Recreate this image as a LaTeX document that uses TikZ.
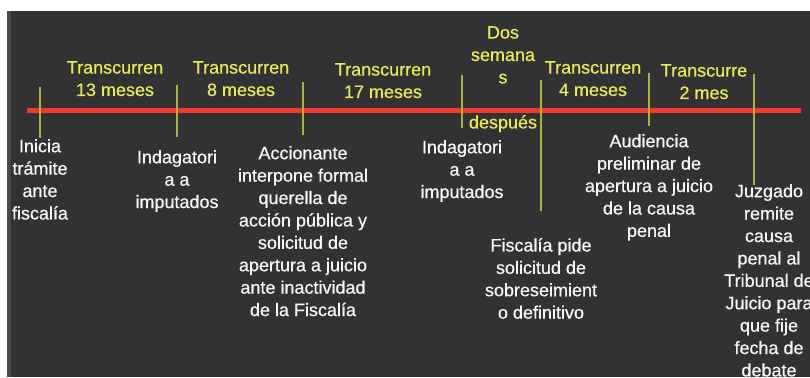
\documentclass[tikz,border=0pt]{standalone}
\usepackage{fontspec}
\setmainfont[BoldFont={Liberation Sans},BoldFeatures={FakeBold=0.6}]{Liberation Sans}
\definecolor{bgdark}{HTML}{323234}
\definecolor{edgegray}{HTML}{4A4A4C}
\definecolor{lblyellow}{HTML}{EAEA58}
\definecolor{tickcol}{HTML}{A9B43C}
\definecolor{redline}{HTML}{F03A2E}
\begin{document}
\begin{tikzpicture}[x=1pt,y=-1pt,
  lbl/.style={inner sep=0pt,anchor=north,align=center,font=\fontsize{18}{22.4}\selectfont\bfseries},
  white lbl/.style={lbl,text=white!93!gray},
  yellow lbl/.style={lbl,text=lblyellow},
  tick/.style={draw=tickcol,line width=1.8pt},
  axis/.style={draw=redline,line width=5pt}]
\useasboundingbox (0,0) rectangle (810,377);
\fill[white] (0,0) rectangle (810,377);
\fill[bgdark] (7,11) rectangle (810,377);
\fill[edgegray] (7,11) rectangle (11,377);
\begin{scope}
\clip (7,11) rectangle (810,377);
% axis
\coordinate (axL) at (27,111);
\coordinate (axR) at (801,111);
\draw[axis] (axL) -- (axR);
% ticks
\coordinate (t1a) at (40,87);  \coordinate (t1b) at (40,138);
\coordinate (t2a) at (177,85); \coordinate (t2b) at (177,137);
\coordinate (t3a) at (303,82); \coordinate (t3b) at (303,135);
\coordinate (t4a) at (462,75); \coordinate (t4b) at (462,128);
\coordinate (t5a) at (541,80); \coordinate (t5b) at (541,211);
\coordinate (t6a) at (649,73); \coordinate (t6b) at (649,126);
\coordinate (t7a) at (754,74); \coordinate (t7b) at (754,185);
\foreach \i in {1,...,7} \draw[tick] (t\i a) -- (t\i b);
% yellow labels
\node[yellow lbl] (y1) at (115,61) {Transcurren\\13 meses};
\node[yellow lbl] (y2) at (241,61) {Transcurren\\8 meses};
\node[yellow lbl] (y3) at (383,63) {Transcurren\\17 meses};
\node[yellow lbl] (y4) at (503,26) {Dos\\semana\\s};
\node[yellow lbl] (y4b) at (503,115) {después};
\node[yellow lbl] (y5) at (593,61) {Transcurren\\4 meses};
\node[yellow lbl] (y6) at (704,64) {Transcurre\\2 mes};
% white labels
\node[white lbl] (w1) at (40,139) {Inicia\\trámite\\ante\\fiscalía};
\node[white lbl] (w2) at (177,150) {Indagatori\\a a\\imputados};
\node[white lbl] (w3) at (303,146) {Accionante\\interpone formal\\querella de\\acción pública y\\solicitud de\\apertura a juicio\\ante inactividad\\de la Fiscalía};
\node[white lbl] (w4) at (462,140) {Indagatori\\a a\\imputados};
\node[white lbl] (w5) at (541,238) {Fiscalía pide\\solicitud de\\sobreseimient\\o definitivo};
\node[white lbl] (w6) at (649,134) {Audiencia\\preliminar de\\apertura a juicio\\de la causa\\penal};
\node[white lbl] (w7) at (769,184) {Juzgado\\remite\\causa\\penal al\\Tribunal de\\Juicio para\\que fije\\fecha de\\debate};
\end{scope}
\end{tikzpicture}
\end{document}
